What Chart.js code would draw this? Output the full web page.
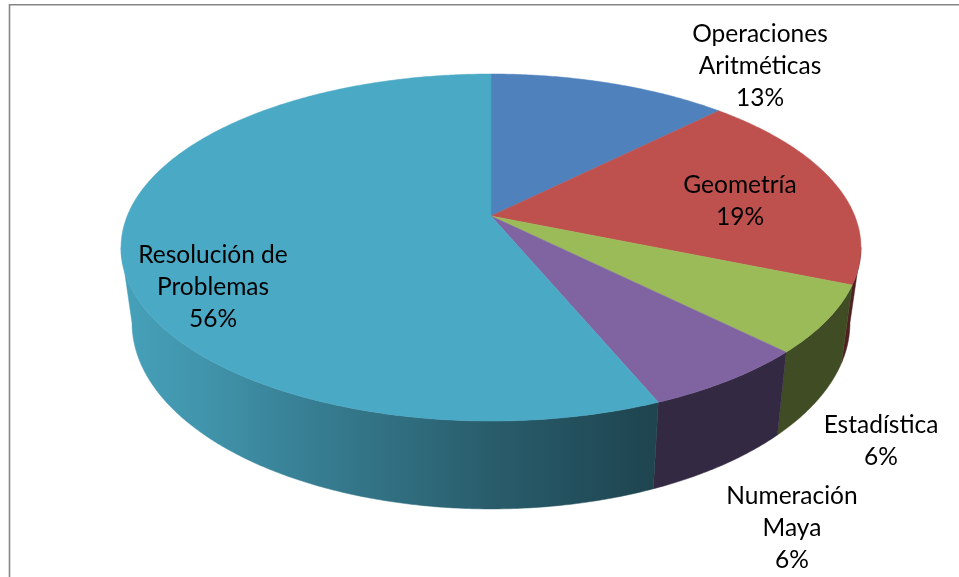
<!DOCTYPE html>
<html>
<head>
<meta charset="utf-8">
<style>html,body{margin:0;padding:0;background:#fff}canvas{display:block}</style>
<script src="https://cdn.jsdelivr.net/npm/chart.js@4"></script>
</head>
<body>
<canvas id="c" width="959" height="577"></canvas>
<script>
// ---- data ----
const categories = ['Operaciones Aritméticas', 'Geometría', 'Estadística', 'Numeración Maya', 'Resolución de Problemas'];
const values = [2, 3, 1, 1, 9];
const sliceColors = ['#4F81BD', '#BE504D', '#9BBB59', '#8064A2', '#4AA9C4'];
const labelLines = [['Operaciones', 'Aritméticas'], ['Geometría'], ['Estadística'], ['Numeración', 'Maya'], ['Resolución de', 'Problemas']];

// ---- layout of the drawn 3-D disc ----
const TOP = {x0: 491, y0: 216, a: 363.8, b: 167.8, k: 0.1816};
const BOTTOM = {x0: 491, y0: 289, a: 353, b: 180, k: 0.1816};
const LABEL_CENTERS = [[760, 34.5], [740, 185.5], [881, 425.5], [792, 496.5], [213, 255.5]];
const LINE_HEIGHT = 32;
const SHADE_X = [120, 200, 300, 400, 490, 580, 650, 960];
const SHADE_F = [0.95, 0.88, 0.76, 0.65, 0.55, 0.47, 0.41, 0.41];

function project(P, a) {
  const u = Math.cos(a), v = Math.sin(a), w = 1 - P.k * v;
  return [P.x0 + P.a * u / w, P.y0 + P.b * v / w];
}
function shadeColor(hex, f) {
  const n = parseInt(hex.slice(1), 16);
  return 'rgb(' + [n >> 16 & 255, n >> 8 & 255, n & 255].map(c => Math.round(c * f)).join(',') + ')';
}
function wallGradient(ctx, hex) {
  const x0 = SHADE_X[0], x1 = SHADE_X[SHADE_X.length - 1];
  const g = ctx.createLinearGradient(x0, 0, x1, 0);
  SHADE_X.forEach((x, i) => g.addColorStop((x - x0) / (x1 - x0), shadeColor(hex, SHADE_F[i])));
  return g;
}

const disc3d = {
  id: 'disc3d',
  beforeDatasetDraw(chart, args) {
    const ctx = chart.ctx, arcs = args.meta.data;
    const STEP = Math.PI / 360;
    const EDGE = Math.asin(TOP.k);          // rim angle where the disc's outline turns away
    // side wall: one shape per slice, only the part of the rim facing the viewer
    arcs.forEach(el => {
      let from = el.startAngle, to = el.endAngle;
      from = Math.max(from, EDGE);
      to = Math.min(to, Math.PI - EDGE);
      if (to <= from) return;
      const angles = [];
      for (let a = from; a < to; a += STEP) angles.push(a);
      angles.push(to);
      ctx.beginPath();
      angles.forEach((a, i) => {
        const p = project(TOP, a);
        if (i) ctx.lineTo(p[0], p[1]); else ctx.moveTo(p[0], p[1]);
      });
      angles.slice().reverse().forEach(a => {
        const p = project(BOTTOM, a); ctx.lineTo(p[0], p[1]);
      });
      ctx.closePath();
      const g = wallGradient(ctx, el.options.backgroundColor);
      ctx.fillStyle = g; ctx.strokeStyle = g; ctx.lineWidth = 0.5;
      ctx.fill(); ctx.stroke();
    });
    // top face
    arcs.forEach(el => {
      ctx.beginPath();
      ctx.moveTo(TOP.x0, TOP.y0);
      for (let a = el.startAngle; a < el.endAngle; a += STEP) {
        const p = project(TOP, a); ctx.lineTo(p[0], p[1]);
      }
      const e = project(TOP, el.endAngle); ctx.lineTo(e[0], e[1]);
      ctx.closePath();
      ctx.fillStyle = el.options.backgroundColor; ctx.strokeStyle = el.options.backgroundColor; ctx.lineWidth = 0.5;
      ctx.fill(); ctx.stroke();
    });
    return false;
  },
  afterDatasetsDraw(chart) {
    const ctx = chart.ctx, total = values.reduce((s, v) => s + v, 0);
    ctx.fillStyle = '#000';
    ctx.font = '24.5px Lato, "Open Sans", sans-serif';
    ctx.textAlign = 'center';
    ctx.textBaseline = 'middle';
    values.forEach((v, i) => {
      const lines = labelLines[i].concat(Math.round(v / total * 100) + '%');
      lines.forEach((t, j) => ctx.fillText(t, LABEL_CENTERS[i][0], LABEL_CENTERS[i][1] + j * LINE_HEIGHT));
    });
  },
  beforeDraw(chart) {
    const ctx = chart.ctx;
    ctx.fillStyle = '#fff';
    ctx.fillRect(0, 0, chart.width, chart.height);
    ctx.strokeStyle = '#868686';
    ctx.lineWidth = 1.6;
    ctx.beginPath();
    ctx.moveTo(9.5, 577); ctx.lineTo(9.5, 4.8); ctx.lineTo(959, 4.8);
    ctx.stroke();
  }
};

new Chart(document.getElementById('c'), {
  type: 'pie',
  data: {labels: categories, datasets: [{data: values, backgroundColor: sliceColors, borderWidth: 0}]},
  options: {
    responsive: false,
    animation: false,
    plugins: {legend: {display: false}, tooltip: {enabled: false}}
  },
  plugins: [disc3d]
});
</script>
</body>
</html>
